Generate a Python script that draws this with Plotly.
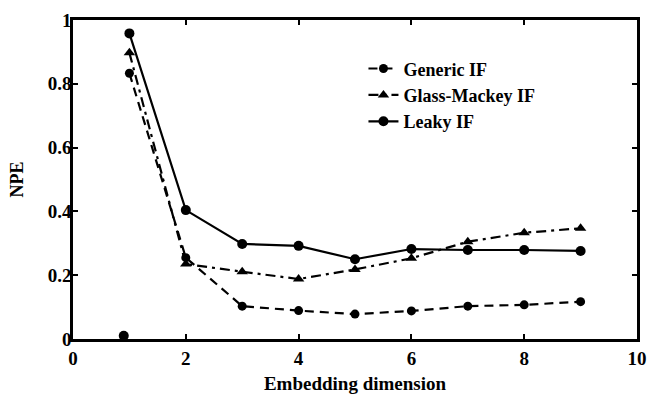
import plotly.graph_objects as go

# Embedding dimension on the x axis
dims = [1, 2, 3, 4, 5, 6, 7, 8, 9]

# NPE for each integrate-and-fire variant
generic_if = [0.833, 0.255, 0.103, 0.089, 0.078, 0.088, 0.103, 0.107, 0.117]
glass_mackey_if = [0.897, 0.235, 0.211, 0.188, 0.218, 0.253, 0.305, 0.333, 0.347]
leaky_if = [0.958, 0.404, 0.298, 0.292, 0.250, 0.282, 0.279, 0.279, 0.276]

# lone point lying on the baseline
stray_x = [0.9]
stray_y = [0.01]

x_ticks = [0, 2, 4, 6, 8, 10]
y_ticks = [0, 0.2, 0.4, 0.6, 0.8, 1]

FONT = "Liberation Serif, Times New Roman, serif"
BLACK = "#000000"

fig = go.Figure()

fig.add_trace(go.Scatter(
    x=dims, y=generic_if, name="<b>Generic IF</b>", mode="lines+markers",
    line=dict(color=BLACK, width=2.2, dash="9px,6px"),
    marker=dict(symbol="circle", size=9, color=BLACK),
))
fig.add_trace(go.Scatter(
    x=dims, y=glass_mackey_if, name="<b>Glass-Mackey IF</b>", mode="lines+markers",
    line=dict(color=BLACK, width=2.2, dash="10px,5px,3px,5px"),
    marker=dict(symbol="triangle-up", size=10, color=BLACK),
))
fig.add_trace(go.Scatter(
    x=dims, y=leaky_if, name="<b>Leaky IF</b>", mode="lines+markers",
    line=dict(color=BLACK, width=2.2),
    marker=dict(symbol="circle", size=10, color=BLACK),
))
fig.add_trace(go.Scatter(
    x=stray_x, y=stray_y, mode="markers", showlegend=False,
    marker=dict(symbol="circle", size=10, color=BLACK),
))

axis_common = dict(
    showline=True, linecolor=BLACK, linewidth=2.5, mirror="ticks",
    ticks="inside", ticklen=5, tickwidth=2, tickcolor=BLACK,
    showgrid=False, zeroline=False, automargin=False,
    tickfont=dict(family=FONT, size=19, color=BLACK),
)

fig.update_layout(
    width=651, height=394,
    margin=dict(l=73, r=14, t=20, b=55),
    paper_bgcolor="white", plot_bgcolor="white",
    font=dict(family=FONT, size=18, color=BLACK),
    xaxis=dict(
        range=[0, 10], tickvals=x_ticks, ticktext=[f"<b>{v}</b>" for v in x_ticks],
        title=dict(text="<b>Embedding dimension</b>", font=dict(family=FONT, size=19), standoff=10),
        **axis_common,
    ),
    yaxis=dict(
        range=[0, 1], tickvals=y_ticks, ticktext=[f"<b>{v:g}</b>" for v in y_ticks],
        title=dict(text="<b>NPE</b>", font=dict(family=FONT, size=18), standoff=20),
        ticklabelstandoff=-5,
        **axis_common,
    ),
    legend=dict(
        x=0.515, y=0.905, xanchor="left", yanchor="top",
        bgcolor="rgba(0,0,0,0)", borderwidth=0,
        font=dict(family=FONT, size=18, color=BLACK),
        tracegroupgap=0,
    ),
    showlegend=True,
)

fig.write_html("out.html")
